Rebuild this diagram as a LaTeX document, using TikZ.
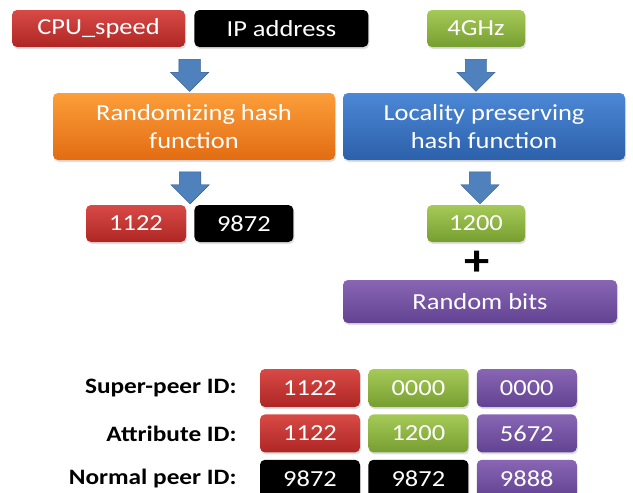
\documentclass[tikz,border=0pt]{standalone}
\usepackage{fontspec}
\setmainfont{Carlito}[FakeStretch=1.15]
\usetikzlibrary{shapes.arrows,positioning,calc,shadows}
\definecolor{vermelhoTopo}{RGB}{216,74,70}
\definecolor{vermelhoBase}{RGB}{174,38,36}
\definecolor{laranjaTopo}{RGB}{252,158,58}
\definecolor{laranjaBase}{RGB}{226,108,18}
\definecolor{azulTopo}{RGB}{76,136,214}
\definecolor{azulBase}{RGB}{44,96,170}
\definecolor{verdeTopo}{RGB}{166,202,88}
\definecolor{verdeBase}{RGB}{118,158,48}
\definecolor{roxoTopo}{RGB}{136,102,180}
\definecolor{roxoBase}{RGB}{98,66,146}
\definecolor{setaAzul}{RGB}{79,129,189}
\definecolor{setaBorda}{RGB}{56,93,138}
\tikzset{
  caixa/.style={rectangle, rounded corners=5pt, draw=none, text=white,
                minimum height=37pt, inner sep=0pt, align=center,
                font=\fontsize{23}{28}\selectfont,
                drop shadow={opacity=0.25, shadow xshift=1pt, shadow yshift=-2pt}},
  vermelho/.style={caixa, top color=vermelhoTopo, bottom color=vermelhoBase},
  preto/.style={caixa, fill=black},
  laranja/.style={caixa, top color=laranjaTopo, bottom color=laranjaBase},
  azul/.style={caixa, top color=azulTopo, bottom color=azulBase},
  verde/.style={caixa, top color=verdeTopo, bottom color=verdeBase},
  roxo/.style={caixa, top color=roxoTopo, bottom color=roxoBase},
  celula/.style={minimum width=100pt, minimum height=38pt},
  rotulo/.style={font=\fontsize{22}{26}\selectfont\bfseries, inner sep=0pt},
  setabloco/.style={single arrow, shape border rotate=270, draw=setaBorda,
                    fill=setaAzul, minimum height=31pt, inner sep=10.5pt,
                    single arrow head extend=8.5pt, single arrow head indent=0pt},
}

\begin{document}
\begin{tikzpicture}[x=1pt, y=-1pt]
  \useasboundingbox (0,0) rectangle (633,493);

  % entradas
  \node[vermelho, minimum width=173pt] (cpu) at (98.5,28.5) {CPU\_speed};
  \node[preto, minimum width=174pt, right=9pt of cpu] (ip) {IP address};
  \node[verde, minimum width=98pt] (ghz) at (476,28.5) {4GHz};

  % funcoes de hash
  \node[laranja, minimum width=282pt, minimum height=67pt] (rand) at (194,126.5)
       {Randomizing hash\\function};
  \node[azul, minimum width=282pt, minimum height=67pt] (loc) at (484,126.5)
       {Locality preserving\\hash function};

  % resultados
  \node[vermelho, minimum width=100pt] (h1) at (136,223.5) {1122};
  \node[preto, minimum width=99pt, right=8pt of h1] (h2) {9872};
  \node[verde, minimum width=98pt] (h3) at (476,223.5) {1200};
  \node[font=\fontsize{44}{44}\selectfont\bfseries, inner sep=0pt] (mais) at (477,263) {+};
  \node[roxo, minimum width=274pt, minimum height=43pt] (rb) at (480,301.5) {Random bits};

  % setas
  \node[setabloco] (s1) at ($(cpu.south east)!0.5!(rand.north)$) {};
  \node[setabloco] (s2) at ($(rand.south)!0.5!(h1.north east)$) {};
  \node[setabloco] (s3) at ($(ghz.south)!0.5!(ghz.south|-loc.north)$) {};
  \node[setabloco] (s4) at ($(loc.south)!0.5!(h3.north)$) {};

  % tabela de IDs
  \node[vermelho, celula] (a1) at (310,388) {1122};
  \node[verde, celula, right=8pt of a1] (a2) {0000};
  \node[roxo, celula, right=8pt of a2] (a3) {0000};
  \node[vermelho, celula, below=7pt of a1] (b1) {1122};
  \node[verde, celula, right=8pt of b1] (b2) {1200};
  \node[roxo, celula, right=8pt of b2] (b3) {5672};
  \node[preto, celula, below=7pt of b1] (c1) {9872};
  \node[preto, celula, right=8pt of c1] (c2) {9872};
  \node[roxo, celula, right=8pt of c2] (c3) {9888};

  \node[rotulo, left=23pt of a1] (lsuper) {Super-peer ID:};
  \node[rotulo, left=23pt of b1] (lattr) {Attribute ID:};
  \node[rotulo, left=23pt of c1] (lnormal) {Normal peer ID:};
\end{tikzpicture}
\end{document}
